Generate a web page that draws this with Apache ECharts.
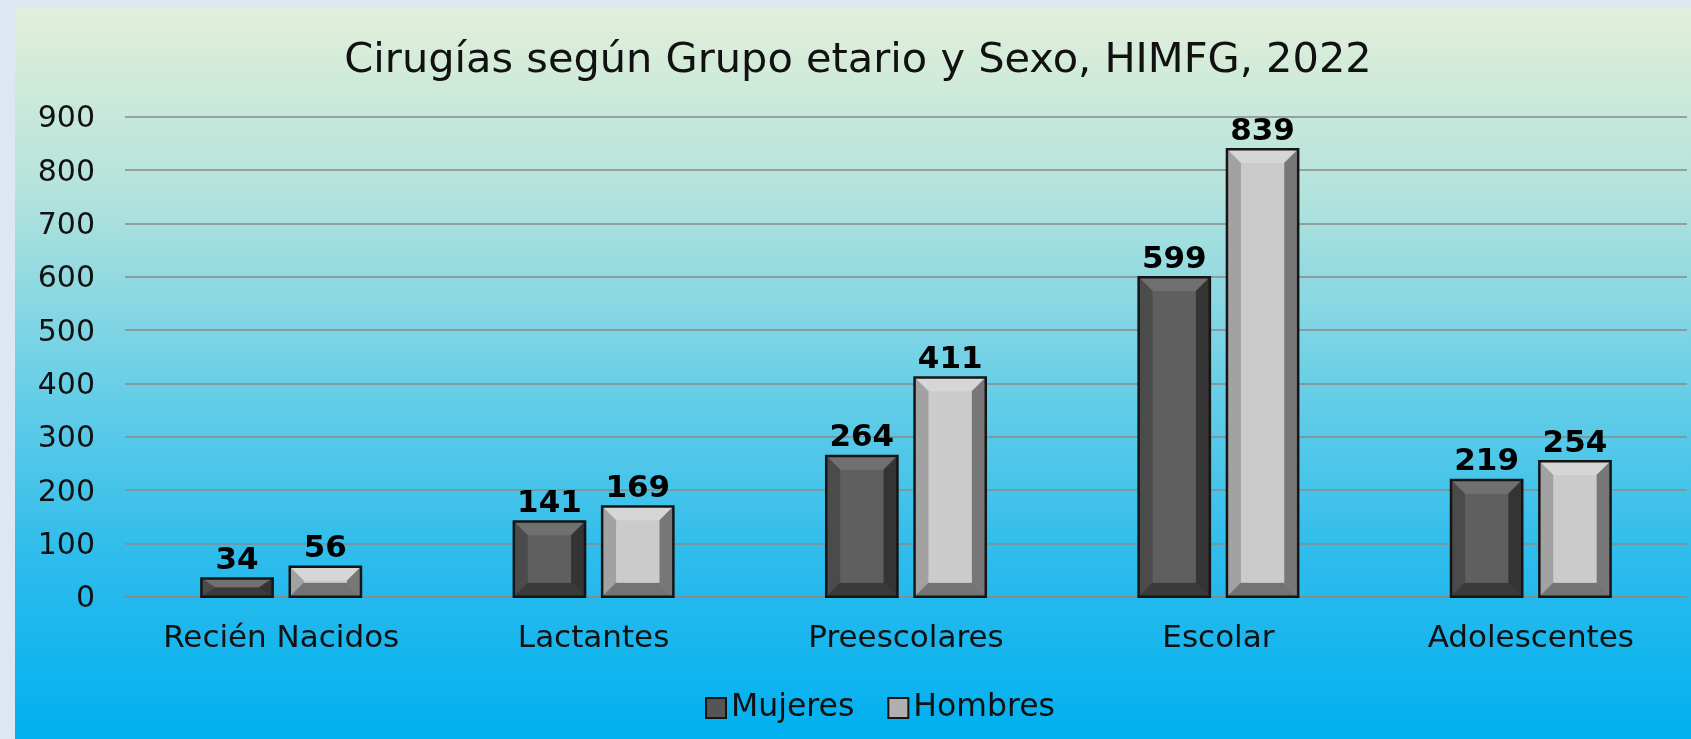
<!DOCTYPE html>
<html><head><meta charset="utf-8">
<script src="https://cdn.jsdelivr.net/npm/echarts@6/dist/echarts.min.js"></script>
<style>html,body{margin:0;padding:0;background:#dde7f2}#c{width:1691px;height:739px}</style>
</head><body><div id="c"></div>
<script>
const categories = ['Recién Nacidos', 'Lactantes', 'Preescolares', 'Escolar', 'Adolescentes'];
const mujeres = [34, 141, 264, 599, 219];
const hombres = [56, 169, 411, 839, 254];
const seriesNames = ['Mujeres', 'Hombres'];
const yTicks = [0, 100, 200, 300, 400, 500, 600, 700, 800, 900];

const FONT = '"DejaVu Sans", sans-serif';
const palettes = [
  {face:'#5f5f5f', top:'#707070', left:'#4b4b4b', right:'#343434', bottom:'#3a3a3a'},
  {face:'#cbcbcb', top:'#d6d6d6', left:'#a2a2a2', right:'#777777', bottom:'#737373'}
];

function makeRender(si) {
  const p = palettes[si];
  return function(params, api) {
    const cat = api.value(0), val = api.value(1);
    const topPt = api.coord([cat, val]);
    const basePt = api.coord([cat, 0]);
    const band = api.size([1, 0])[0];
    const bw = band * 0.228;
    const gap = bw * 0.24;
    const cx = topPt[0];
    const x0 = si === 0 ? cx - gap / 2 - bw : cx + gap / 2;
    const x1 = x0 + bw;
    const y0 = topPt[1], y1 = basePt[1];
    const h = y1 - y0;
    const b = Math.min(14, bw / 2);
    const bv = Math.min(14, h / 2);
    const ix0 = x0 + b, ix1 = x1 - b, iy0 = y0 + bv, iy1 = y1 - bv;
    const poly = (pts, c) => ({type:'polygon', shape:{points:pts}, style:{fill:c, stroke:c, lineWidth:0.5}});
    return {
      type:'group',
      children:[
        {type:'rect', shape:{x:x0, y:y0, width:bw, height:h}, style:{fill:p.face}},
        poly([[x0,y0],[x1,y0],[ix1,iy0],[ix0,iy0]], p.top),
        poly([[x0,y0],[ix0,iy0],[ix0,iy1],[x0,y1]], p.left),
        poly([[x1,y0],[x1,y1],[ix1,iy1],[ix1,iy0]], p.right),
        poly([[x0,y1],[x1,y1],[ix1,iy1],[ix0,iy1]], p.bottom),
        {type:'rect', shape:{x:ix0, y:iy0, width:Math.max(0, ix1-ix0), height:Math.max(0, iy1-iy0)}, style:{fill:p.face}},
        {type:'rect', shape:{x:x0, y:y0, width:bw, height:h}, style:{fill:'none', stroke:'#151515', lineWidth:2.5}},
        {type:'text', x:(x0+x1)/2, y:y0 - 2, style:{text:String(val), fill:'#000', font:'bold 31px ' + FONT, align:'center', verticalAlign:'bottom'}}
      ]
    };
  };
}

const chart = echarts.init(document.getElementById('c'), null, {renderer:'canvas'});
chart.setOption({
  backgroundColor:'#dde7f2',
  animation:false,
  graphic:[{
    type:'rect', left:15, top:8, z:-10, silent:true,
    shape:{width:1676, height:731},
    style:{fill:new echarts.graphic.LinearGradient(0,0,0,1,[
      {offset:0, color:'#e2efd9'},
      {offset:0.25, color:'#b4e3dc'},
      {offset:0.5, color:'#6dd0e6'},
      {offset:0.75, color:'#2ebcec'},
      {offset:1, color:'#00b0f0'}
    ])}
  }],
  title:{
    text:'Cirugías según Grupo etario y Sexo, HIMFG, 2022',
    left:853, textAlign:'center', top:35,
    textStyle:{fontFamily:FONT, fontSize:41.5, fontWeight:'normal', color:'#111'}
  },
  legend:{
    data:seriesNames, bottom:10, left:700, itemGap:33, itemWidth:20, itemHeight:20, icon:'rect',
    textStyle:{fontFamily:FONT, fontSize:31.5, color:'#111'}
  },
  grid:{left:125, right:4, top:116.7, bottom:142.3, containLabel:false},
  xAxis:{
    type:'category', data:categories,
    axisLine:{show:true, lineStyle:{color:'#8a8a8a', width:1.5}},
    axisTick:{show:false},
    axisLabel:{fontFamily:FONT, fontSize:31, color:'#111', margin:27}
  },
  yAxis:{
    type:'value', min:0, max:900, interval:100,
    axisLine:{show:false}, axisTick:{show:false},
    axisLabel:{fontFamily:FONT, fontSize:30, color:'#111', margin:30,
      formatter:(v)=> yTicks.includes(v) ? '{t|' + v + '}' : '',
      rich:{t:{fontFamily:FONT, fontSize:30, color:'#111', padding:[6,0,0,0]}}},
    splitLine:{lineStyle:{color:'#8a8a8a', width:1.5}}
  },
  series:[
    {name:seriesNames[0], type:'custom', renderItem:makeRender(0),
     itemStyle:{color:'#555555', borderColor:'#151515', borderWidth:2},
     data:mujeres.map((v,i)=>[i,v]), encode:{x:0, y:1}},
    {name:seriesNames[1], type:'custom', renderItem:makeRender(1),
     itemStyle:{color:'#b0b0b0', borderColor:'#151515', borderWidth:2},
     data:hombres.map((v,i)=>[i,v]), encode:{x:0, y:1}}
  ]
});
</script>
</body></html>
